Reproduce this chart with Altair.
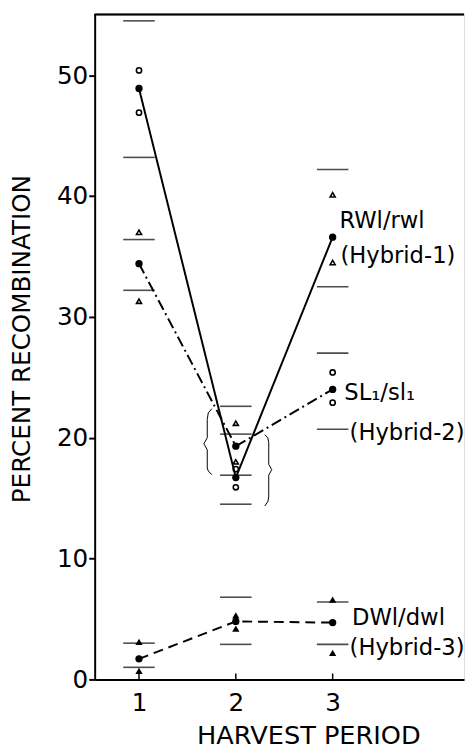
import altair as alt
import pandas as pd

# ---- data ----
periods = [1, 2, 3]
h1_mean = [48.9, 16.7, 36.6]   # RWl/rwl (Hybrid-1), solid line
h2_mean = [34.4, 19.3, 24.0]   # SL1/sl1 (Hybrid-2), dash-dot line
h3_mean = [1.7, 4.8, 4.7]      # DWl/dwl (Hybrid-3), dashed line

open_circle_period = [1, 1, 2, 2, 3, 3]
open_circle_value = [50.4, 46.9, 17.4, 15.9, 25.4, 22.9]
open_tri_period = [1, 1, 2, 2, 3, 3]
open_tri_value = [37.0, 31.3, 21.2, 18.0, 40.1, 34.5]
filled_tri_period = [1, 1, 2, 2, 3, 3]
filled_tri_value = [3.1, 0.7, 5.3, 4.2, 6.6, 2.2]

bar_period = [1] * 6 + [2] * 6 + [3] * 6
bar_value = [54.5, 43.2, 36.4, 32.2, 3.0, 1.0,
             22.6, 20.3, 16.9, 14.5, 6.8, 2.9,
             42.2, 32.5, 27.0, 20.7, 6.4, 2.9]

brace_left_x = [1.753, 1.715, 1.705, 1.705, 1.670, 1.705, 1.705, 1.715, 1.753]
brace_left_y = [22.40, 22.05, 21.5, 20.0, 19.5, 19.0, 17.5, 17.25, 16.94]
brace_right_x = [2.299, 2.330, 2.340, 2.340, 2.371, 2.340, 2.340, 2.330, 2.299]
brace_right_y = [20.25, 20.0, 19.6, 17.8, 17.36, 16.9, 15.1, 14.7, 14.35]

label_text = ["RWl/rwl", "(Hybrid-1)", "SL\u2081/sl\u2081", "(Hybrid-2)", "DWl/dwl", "(Hybrid-3)"]
label_x = [3.07, 3.08, 3.12, 3.175, 3.20, 3.175]
label_y = [37.9, 35.0, 23.7, 20.4, 5.1, 2.6]

y_ticks = [0, 10, 20, 30, 40, 50]

# ---- tables ----
lines_df = pd.DataFrame({
    "period": periods * 3,
    "value": h1_mean + h2_mean + h3_mean,
    "series": ["Hybrid-1"] * 3 + ["Hybrid-2"] * 3 + ["Hybrid-3"] * 3,
})
means_df = lines_df.copy()
circ_df = pd.DataFrame({"period": open_circle_period, "value": open_circle_value})
otri_df = pd.DataFrame({"period": open_tri_period, "value": open_tri_value})
ftri_df = pd.DataFrame({"period": filled_tri_period, "value": filled_tri_value})
bar_df = pd.DataFrame({"period": bar_period, "value": bar_value})
brace_df = pd.DataFrame({
    "period": brace_left_x + brace_right_x,
    "value": brace_left_y + brace_right_y,
    "brace": ["L"] * len(brace_left_x) + ["R"] * len(brace_right_x),
    "order": list(range(len(brace_left_x))) + list(range(len(brace_right_x))),
})
label_df = pd.DataFrame({"period": label_x, "value": label_y, "text": label_text})
tick_df = pd.DataFrame({"period": periods})

W, H = 375, 676
FONT = "DejaVu Sans"

xs = alt.Scale(domain=[0.5422, 4.357], nice=False, zero=False)
ys = alt.Scale(domain=[0, 55.1], nice=False, zero=False)

xaxis = alt.Axis(
    values=periods, format="d", title="HARVEST PERIOD", grid=False,
    ticks=False, tickSize=0, labelPadding=12, labelFont=FONT, labelFontSize=25,
    labelColor="black", domainColor="black", domainWidth=2,
    titleFont=FONT, titleFontSize=26, titleFontWeight="normal", titleColor="black",
    titleX=217, titleY=65, titleBaseline="alphabetic", titleAlign="center",
    labelFlush=False,
)
yaxis = alt.Axis(
    values=y_ticks, format="d", title="PERCENT RECOMBINATION", grid=False,
    ticks=True, tickSize=6, tickWidth=2, tickColor="black", labelPadding=1,
    labelFont=FONT, labelFontSize=25, labelColor="black",
    domainColor="black", domainWidth=2,
    titleFont=FONT, titleFontSize=25, titleFontWeight="normal", titleColor="black",
    titleX=-74, titleY=330, titleAngle=-90, titleBaseline="middle", titleAlign="center",
)


def X():
    return alt.X("period:Q", scale=xs, axis=xaxis)


def Y():
    return alt.Y("value:Q", scale=ys, axis=yaxis)


top_rule = alt.Chart(tick_df).mark_rule(color="black", strokeWidth=1.5).encode(
    x=alt.value(0), x2=alt.value(W), y=alt.value(1)
)

x_ticks = alt.Chart(tick_df).mark_rule(color="black", strokeWidth=1.5).encode(
    x=X(), y=alt.value(H), y2=alt.value(H - 6)
)

bars = alt.Chart(bar_df).mark_tick(
    orient="horizontal", color="black", size=32, thickness=1.6
).encode(x=X(), y=Y())

lines = alt.Chart(lines_df).mark_line(color="black", strokeWidth=2).encode(
    x=X(), y=Y(),
    detail="series:N",
    strokeDash=alt.StrokeDash(
        "series:N",
        scale=alt.Scale(domain=["Hybrid-1", "Hybrid-2", "Hybrid-3"],
                        range=[[1, 0], [11, 4, 2, 4], [10, 6]]),
        legend=None,
    ),
)

braces = alt.Chart(brace_df).mark_line(color="black", strokeWidth=1).encode(
    x=X(), y=Y(), detail="brace:N", order="order:Q"
)

means = alt.Chart(means_df).mark_point(
    shape="circle", filled=True, color="black", size=55, opacity=1
).encode(x=X(), y=Y())

circles = alt.Chart(circ_df).mark_point(
    shape="circle", filled=False, color="black", size=28, strokeWidth=1.6, opacity=1
).encode(x=X(), y=Y())

otris = alt.Chart(otri_df).mark_point(
    shape="triangle-up", filled=False, color="black", size=26, strokeWidth=1.6, opacity=1
).encode(x=X(), y=Y())

ftris = alt.Chart(ftri_df).mark_point(
    shape="triangle-up", filled=True, color="black", size=55, opacity=1
).encode(x=X(), y=Y())

labels = alt.Chart(label_df).mark_text(
    align="left", baseline="middle", font=FONT, fontSize=23, color="black"
).encode(x=X(), y=Y(), text="text:N")

chart = alt.layer(
    top_rule, x_ticks, bars, lines, braces, means, circles, otris, ftris, labels
).properties(
    width=W, height=H,
    autosize=alt.AutoSizeParams(type="none"),
    padding={"left": 88, "top": 0, "right": 2, "bottom": 66},
).configure_view(strokeWidth=0).configure(background="white")

chart.save("out.html", embed_options={"renderer": "svg", "actions": False})
